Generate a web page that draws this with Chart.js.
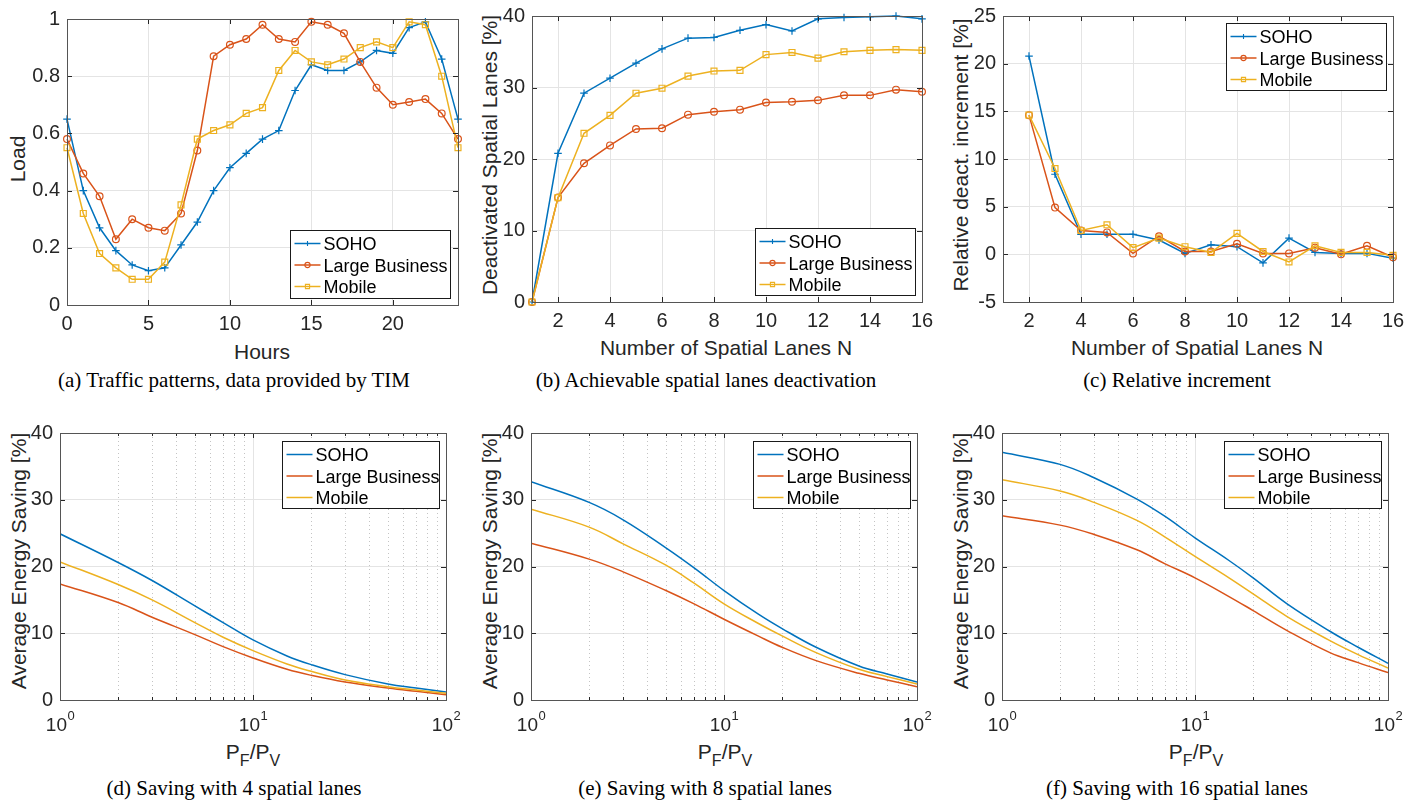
<!DOCTYPE html>
<html>
<head>
<meta charset="utf-8">
<script src="https://cdn.jsdelivr.net/npm/chart.js@4.4.1/dist/chart.umd.min.js"></script>
<style>
  body { margin: 0; background: #fff; width: 1423px; height: 804px; position: relative; overflow: hidden;
         font-family: "Liberation Sans", Arial, Helvetica, sans-serif; }
  canvas { position: absolute; }
  .t { position: absolute; color: #262626; font-size: 21px; line-height: 1; white-space: nowrap;
       transform: translate(-50%, -50%); }
  .t.rot { transform: translate(-50%, -50%) rotate(-90deg); }
  .t sub { font-size: 16px; vertical-align: baseline; position: relative; top: 7px; }
  .cap { position: absolute; font-family: "Liberation Serif", "Times New Roman", serif; font-size: 21px;
         line-height: 1; color: #000; white-space: nowrap; transform: translate(-50%, -50%); }
</style>
</head>
<body>

<div class="t" style="left:262px;top:351px">Hours</div>
<div class="t rot" style="left:17px;top:159px">Load</div>
<div class="t" style="left:726px;top:347px">Number of Spatial Lanes N</div>
<div class="t rot" style="left:489px;top:155px">Deactivated Spatial Lanes [%]</div>
<div class="t" style="left:1197px;top:347px">Number of Spatial Lanes N</div>
<div class="t rot" style="left:960px;top:155px">Relative deact. increment [%]</div>

<div class="t rot" style="left:18px;top:561px">Average Energy Saving [%]</div>
<div class="t rot" style="left:489px;top:561px">Average Energy Saving [%]</div>
<div class="t rot" style="left:960px;top:561px">Average Energy Saving [%]</div>
<div class="t" style="left:253px;top:751px">P<sub>F</sub>/P<sub>V</sub></div>
<div class="t" style="left:725px;top:751px">P<sub>F</sub>/P<sub>V</sub></div>
<div class="t" style="left:1196px;top:751px">P<sub>F</sub>/P<sub>V</sub></div>

<div class="cap" style="left:234px;top:380px">(a) Traffic patterns, data provided by TIM</div>
<div class="cap" style="left:706px;top:380px">(b) Achievable spatial lanes deactivation</div>
<div class="cap" style="left:1177px;top:380px">(c) Relative increment</div>
<div class="cap" style="left:234px;top:788px">(d) Saving with 4 spatial lanes</div>
<div class="cap" style="left:705px;top:788px">(e) Saving with 8 spatial lanes</div>
<div class="cap" style="left:1177px;top:788px">(f) Saving with 16 spatial lanes</div>

<script>
const seriesNames = ['SOHO', 'Large Business', 'Mobile'];
const seriesColors = ['#0072BD', '#D95319', '#EDB120'];
const seriesMarkers = ['cross', 'circle', 'rect'];

// (a) traffic patterns
const hours = [0, 1, 2, 3, 4, 5, 6, 7, 8, 9, 10, 11, 12, 13, 14, 15, 16, 17, 18, 19, 20, 21, 22, 23, 24];
const loadSoho = [0.65, 0.40, 0.27, 0.19, 0.14, 0.12, 0.13, 0.21, 0.29, 0.40, 0.48, 0.53, 0.58, 0.61, 0.75, 0.84, 0.82, 0.82, 0.85, 0.89, 0.88, 0.97, 0.99, 0.86, 0.65];
const loadBusiness = [0.58, 0.46, 0.38, 0.23, 0.30, 0.27, 0.26, 0.32, 0.54, 0.87, 0.91, 0.93, 0.98, 0.93, 0.92, 0.99, 0.98, 0.95, 0.85, 0.76, 0.70, 0.71, 0.72, 0.67, 0.58];
const loadMobile = [0.55, 0.32, 0.18, 0.13, 0.09, 0.09, 0.15, 0.35, 0.58, 0.61, 0.63, 0.67, 0.69, 0.82, 0.89, 0.85, 0.84, 0.86, 0.90, 0.92, 0.90, 0.99, 0.98, 0.80, 0.55];

// (b) deactivated lanes
const lanesN = [1, 2, 3, 4, 5, 6, 7, 8, 9, 10, 11, 12, 13, 14, 15, 16];
const deactSoho = [0, 20.8, 29.2, 31.3, 33.4, 35.4, 36.9, 37.0, 38.0, 38.8, 37.9, 39.6, 39.8, 39.9, 40.0, 39.6];
const deactBusiness = [0, 14.6, 19.4, 21.9, 24.2, 24.3, 26.2, 26.6, 26.9, 27.9, 28.0, 28.2, 28.9, 28.9, 29.7, 29.4];
const deactMobile = [0, 14.6, 23.6, 26.1, 29.2, 29.9, 31.6, 32.3, 32.4, 34.6, 34.9, 34.1, 35.0, 35.2, 35.3, 35.2];

// (c) relative increment
const incN = [2, 3, 4, 5, 6, 7, 8, 9, 10, 11, 12, 13, 14, 15, 16];
const incSoho = [20.8, 8.4, 2.1, 2.1, 2.1, 1.5, 0.1, 1.0, 0.8, -0.9, 1.7, 0.2, 0.1, 0.1, -0.4];
const incBusiness = [14.6, 4.9, 2.5, 2.3, 0.1, 1.9, 0.3, 0.3, 1.1, 0.1, 0.1, 0.7, 0.0, 0.9, -0.3];
const incMobile = [14.6, 9.0, 2.5, 3.1, 0.7, 1.7, 0.8, 0.2, 2.2, 0.3, -0.8, 0.9, 0.2, 0.2, -0.1];

// (d)-(f) energy saving vs PF/PV
const pfpv = [1, 2, 3, 5, 7, 10, 15, 20, 30, 50, 70, 100];
const save4Soho = [24.9, 20.6, 17.9, 14.1, 11.6, 9.0, 6.6, 5.3, 3.8, 2.4, 1.8, 1.2];
const save4Business = [17.4, 14.6, 12.4, 9.8, 8.0, 6.3, 4.6, 3.7, 2.7, 1.8, 1.3, 0.8];
const save4Mobile = [20.7, 17.3, 15.0, 11.6, 9.4, 7.4, 5.4, 4.3, 3.0, 2.0, 1.5, 1.0];
const save8Soho = [32.7, 29.6, 27.0, 22.8, 19.8, 16.4, 12.9, 10.7, 7.9, 5.1, 3.9, 2.7];
const save8Business = [23.5, 21.1, 19.2, 16.4, 14.4, 12.1, 9.6, 7.9, 5.9, 4.0, 3.0, 2.0];
const save8Mobile = [28.6, 25.9, 23.4, 20.2, 17.5, 14.4, 11.5, 9.6, 7.1, 4.6, 3.5, 2.4];
const save16Soho = [37.1, 35.3, 33.3, 30.1, 27.5, 24.3, 20.9, 18.3, 14.4, 10.3, 7.9, 5.5];
const save16Business = [27.6, 26.2, 24.8, 22.5, 20.4, 18.3, 15.5, 13.4, 10.4, 7.1, 5.6, 4.1];
const save16Mobile = [33.0, 31.3, 29.6, 26.9, 24.4, 21.5, 18.3, 15.9, 12.5, 8.9, 6.8, 4.8];

// tick labels
const hourTicks = [0, 5, 10, 15, 20];
const loadTicks = [0, 0.2, 0.4, 0.6, 0.8, 1];
const laneTicks = [2, 4, 6, 8, 10, 12, 14, 16];
const deactTicks = [0, 10, 20, 30, 40];
const incTicks = [-5, 0, 5, 10, 15, 20, 25];
const savingTicks = [0, 10, 20, 30, 40];
const ratioTicks = [1, 10, 100];

const FONT = '"Liberation Sans", Arial, Helvetica, sans-serif';
const INK = '#262626';

function drawMarker(ctx, style, x, y, r) {
    ctx.beginPath();
    if (style === 'cross') {
        ctx.moveTo(x - r, y); ctx.lineTo(x + r, y);
        ctx.moveTo(x, y - r); ctx.lineTo(x, y + r);
    } else if (style === 'circle') {
        ctx.arc(x, y, r, 0, Math.PI * 2);
    } else {
        ctx.rect(x - r * 0.8, y - r * 0.8, r * 1.6, r * 1.6);
    }
    ctx.stroke();
}

// MATLAB-like axes: box, inner ticks, minor log grid, boxed legend
const plotBox = {
    id: 'plotBox',
    beforeDatasetsDraw(chart) {
        const x = chart.scales.x, a = chart.chartArea, ctx = chart.ctx;
        if (x.type !== 'logarithmic') return;
        ctx.save();
        ctx.strokeStyle = '#c4c4c4';
        ctx.lineWidth = 1;
        ctx.setLineDash([1, 3]);
        for (let d = 1; d < 100; d *= 10) {
            for (let k = 2; k <= 9; k++) {
                const px = Math.round(x.getPixelForValue(k * d)) + 0.5;
                ctx.beginPath(); ctx.moveTo(px, a.top); ctx.lineTo(px, a.bottom); ctx.stroke();
            }
        }
        ctx.restore();
    },
    afterDraw(chart, args, opts) {
        const { ctx, chartArea: a } = chart;
        const x = chart.scales.x, y = chart.scales.y;
        ctx.save();

        // inner ticks
        ctx.strokeStyle = INK;
        ctx.lineWidth = 1;
        ctx.beginPath();
        x.ticks.forEach(t => {
            const px = Math.round(x.getPixelForValue(t.value)) + 0.5;
            ctx.moveTo(px, a.bottom); ctx.lineTo(px, a.bottom - 5);
            ctx.moveTo(px, a.top); ctx.lineTo(px, a.top + 5);
        });
        y.ticks.forEach(t => {
            const py = Math.round(y.getPixelForValue(t.value)) + 0.5;
            ctx.moveTo(a.left, py); ctx.lineTo(a.left + 5, py);
            ctx.moveTo(a.right, py); ctx.lineTo(a.right - 5, py);
        });
        if (x.type === 'logarithmic') {
            for (let d = 1; d < 100; d *= 10) {
                for (let k = 2; k <= 9; k++) {
                    const px = Math.round(x.getPixelForValue(k * d)) + 0.5;
                    ctx.moveTo(px, a.bottom); ctx.lineTo(px, a.bottom - 3);
                    ctx.moveTo(px, a.top); ctx.lineTo(px, a.top + 3);
                }
            }
        }
        ctx.stroke();

        // box
        ctx.strokeStyle = '#555';
        ctx.strokeRect(Math.round(a.left) + 0.5, Math.round(a.top) + 0.5,
            Math.round(a.right - a.left), Math.round(a.bottom - a.top));

        // 10^n labels for the log axis
        if (x.type === 'logarithmic') {
            ctx.fillStyle = INK;
            ctx.textBaseline = 'alphabetic';
            ratioTicks.forEach(v => {
                const e = String(Math.round(Math.log10(v)));
                const px = x.getPixelForValue(v);
                ctx.font = '19px ' + FONT;
                const wb = ctx.measureText('10').width;
                ctx.font = '13px ' + FONT;
                const we = ctx.measureText(e).width;
                const sx = px - (wb + we) / 2;
                ctx.font = '19px ' + FONT;
                ctx.fillText('10', sx, a.bottom + 31);
                ctx.font = '13px ' + FONT;
                ctx.fillText(e, sx + wb + 0.5, a.bottom + 20);
            });
        }

        // legend
        const lg = opts.legend;
        const bx = Math.round(a.right - lg.dx - lg.w) + 0.5;
        const by = (lg.corner === 'tr' ? Math.round(a.top + lg.dy) : Math.round(a.bottom - lg.dy - lg.h)) + 0.5;
        ctx.fillStyle = '#fff';
        ctx.fillRect(bx, by, lg.w, lg.h);
        ctx.strokeStyle = '#1a1a1a';
        ctx.lineWidth = 1;
        ctx.strokeRect(bx, by, lg.w, lg.h);
        ctx.font = '18px ' + FONT;
        seriesNames.forEach((name, i) => {
            const ry = by + 13 + i * 21.5;
            ctx.strokeStyle = seriesColors[i];
            ctx.lineWidth = 1.5;
            ctx.beginPath(); ctx.moveTo(bx + 4, ry); ctx.lineTo(bx + 30, ry); ctx.stroke();
            if (lg.markers) {
                ctx.lineWidth = 1.1;
                drawMarker(ctx, seriesMarkers[i], bx + 17, ry, 2.6);
            }
            ctx.fillStyle = '#000';
            ctx.fillText(name, bx + 33, ry + 6.5);
        });
        ctx.restore();
    }
};

function axis(type, min, max, ticks, isX, showLabels) {
    return {
        type, min, max,
        afterBuildTicks: s => { s.ticks = ticks.map(v => ({ value: v })); },
        afterFit: s => { if (isX) s.height = 34; else s.width = 60; },
        grid: { color: '#e4e4e4', lineWidth: 1, drawTicks: false },
        border: { display: false },
        ticks: {
            display: showLabels,
            color: INK,
            font: { family: FONT, size: 20 },
            padding: isX ? 7 : 7,
            autoSkip: false,
            maxRotation: 0,
            callback: v => String(v)
        }
    };
}

function markerSet(i, xs, ys) {
    return {
        label: seriesNames[i],
        data: xs.map((v, k) => ({ x: v, y: ys[k] })),
        borderColor: seriesColors[i],
        borderWidth: 1.5,
        pointStyle: seriesMarkers[i],
        pointRadius: [3.8, 3.4, 4.2][i],
        pointBorderColor: seriesColors[i],
        pointBackgroundColor: 'rgba(0,0,0,0)',
        pointBorderWidth: 1.2,
        tension: 0,
        clip: false,
        order: 3 - i
    };
}

function curveSet(i, xs, ys) {
    return {
        label: seriesNames[i],
        data: xs.map((v, k) => ({ x: v, y: ys[k] })),
        borderColor: seriesColors[i],
        borderWidth: 1.5,
        pointRadius: 0,
        tension: 0.4,
        order: 3 - i
    };
}

function makeChart(area, datasets, xAxis, yAxis, legend) {
    const c = document.createElement('canvas');
    c.width = area.r - area.l + 80;
    c.height = area.b - area.t + 46;
    c.style.left = (area.l - 60) + 'px';
    c.style.top = (area.t - 12) + 'px';
    document.body.appendChild(c);
    return new Chart(c.getContext('2d'), {
        type: 'line',
        data: { datasets },
        options: {
            responsive: false,
            animation: false,
            events: [],
            layout: { padding: { top: 12, right: 20, left: 0, bottom: 0 }, autoPadding: false },
            plugins: { legend: { display: false }, tooltip: { enabled: false }, plotBox: { legend } },
            scales: { x: xAxis, y: yAxis }
        },
        plugins: [plotBox]
    });
}

// layout (chart areas in page pixels)
const areas = {
    a: { l: 67, t: 12, r: 458, b: 305 },
    b: { l: 532, t: 9, r: 922, b: 302 },
    c: { l: 1003, t: 9, r: 1393, b: 302 },
    d: { l: 60, t: 426, r: 446, b: 700 },
    e: { l: 531, t: 426, r: 917, b: 700 },
    f: { l: 1002, t: 426, r: 1388, b: 700 }
};

makeChart(areas.a,
    [markerSet(0, hours, loadSoho), markerSet(1, hours, loadBusiness), markerSet(2, hours, loadMobile)],
    axis('linear', 0, 24, hourTicks, true, true),
    axis('linear', 0, 1, loadTicks, false, true),
    { corner: 'br', dx: 8, dy: 7, w: 160, h: 68, markers: true });

makeChart(areas.b,
    [markerSet(0, lanesN, deactSoho), markerSet(1, lanesN, deactBusiness), markerSet(2, lanesN, deactMobile)],
    axis('linear', 1, 16, laneTicks, true, true),
    axis('linear', 0, 40, deactTicks, false, true),
    { corner: 'br', dx: 7, dy: 7, w: 160, h: 67, markers: true });

makeChart(areas.c,
    [markerSet(0, incN, incSoho), markerSet(1, incN, incBusiness), markerSet(2, incN, incMobile)],
    axis('linear', 1, 16, laneTicks, true, true),
    axis('linear', -5, 25, incTicks, false, true),
    { corner: 'tr', dx: 7, dy: 7, w: 160, h: 67, markers: true });

const savings = [
    [areas.d, save4Soho, save4Business, save4Mobile],
    [areas.e, save8Soho, save8Business, save8Mobile],
    [areas.f, save16Soho, save16Business, save16Mobile]
];
savings.forEach(([area, s, lb, m]) => {
    makeChart(area,
        [curveSet(0, pfpv, s), curveSet(1, pfpv, lb), curveSet(2, pfpv, m)],
        axis('logarithmic', 1, 100, ratioTicks, true, false),
        axis('linear', 0, 40, savingTicks, false, true),
        { corner: 'tr', dx: 7, dy: 8, w: 157, h: 67, markers: false });
});
</script>
</body>
</html>
